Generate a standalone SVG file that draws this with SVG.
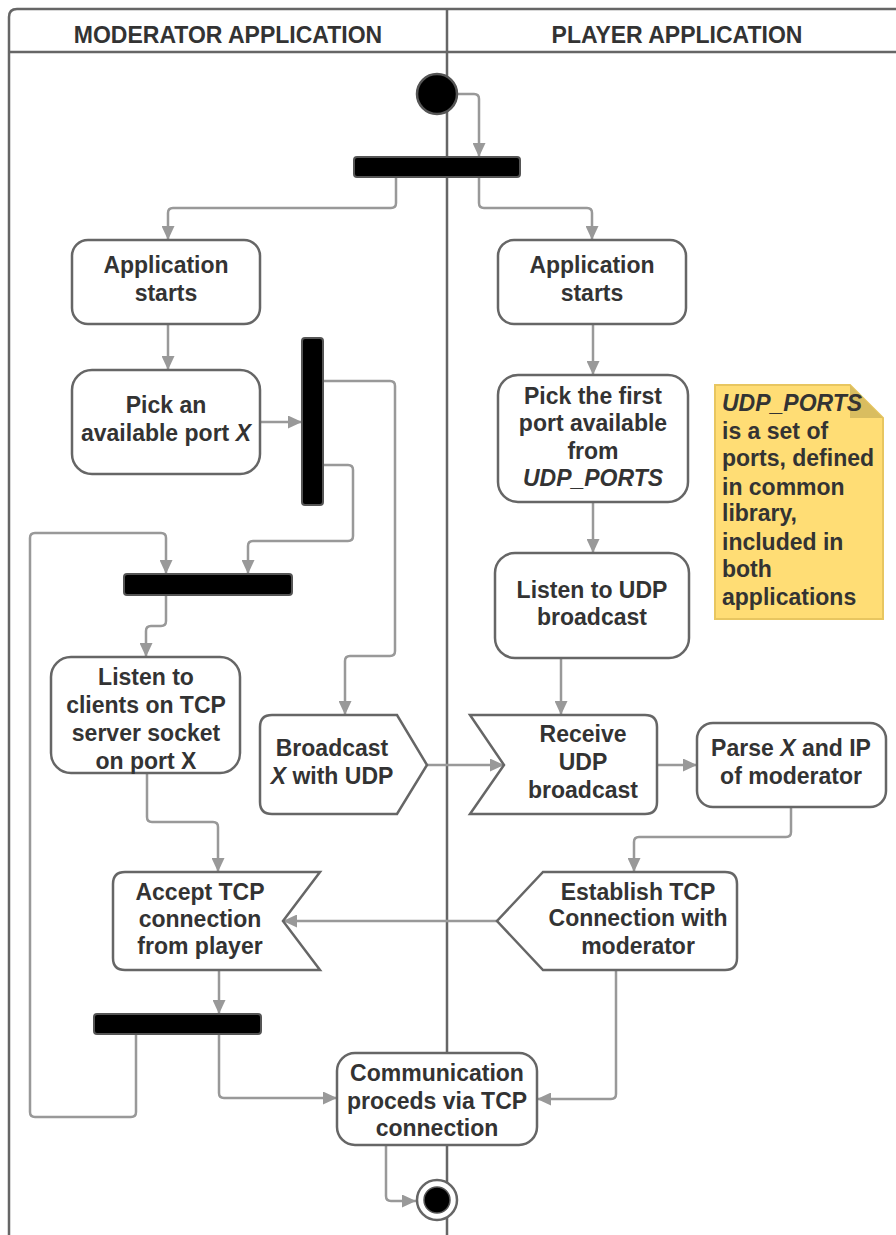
<svg xmlns="http://www.w3.org/2000/svg" width="896" height="1235" viewBox="0 0 896 1235">
  <style>
    .lane { fill: none; stroke: #666; stroke-width: 2.5; }
    .node { fill: #fff; stroke: #666; stroke-width: 2.5; }
    .bar { fill: #000; stroke: #555; stroke-width: 2; }
    .conn { fill: none; stroke: #999; stroke-width: 2.5; marker-end: url(#arrow); }
    text { font-family: "Liberation Sans", Arial, sans-serif; font-weight: bold; font-size: 23px; fill: #333; }
    .c { text-anchor: middle; }
    .hdr { font-size: 23px; fill: #333; }
    .i { font-style: italic; }
  </style>
  <defs>
    <marker id="arrow" viewBox="0 0 14 13" refX="14" refY="6.5" markerWidth="14" markerHeight="13" markerUnits="userSpaceOnUse" orient="auto">
      <path d="M0,0 L14,6.5 L0,13 Z" fill="#999"/>
    </marker>
  </defs>

  <rect width="896" height="1235" fill="#fff"/>

  <!-- swimlanes -->
  <g id="lanes">
    <path class="lane" d="M9,1235 V17 Q9,9 17,9 H896"/>
    <path class="lane" d="M9,52 H896"/>
    <path class="lane" d="M447,9 V1235"/>
    <text class="c hdr" x="228" y="43">MODERATOR APPLICATION</text>
    <text class="c hdr" x="677" y="43">PLAYER APPLICATION</text>
  </g>

  <!-- connectors -->
  <g id="connectors">
    <path class="conn" d="M458,94 H474 Q479,94 479,99 V157"/>
    <path class="conn" d="M396,177 V203 Q396,208 391,208 H173 Q168,208 168,213 V240"/>
    <path class="conn" d="M479,177 V203 Q479,208 484,208 H587 Q592,208 592,213 V240"/>
    <path class="conn" d="M168,324 V370"/>
    <path class="conn" d="M260,422 H302"/>
    <path class="conn" d="M323,381 H390 Q395,381 395,386 V651 Q395,656 390,656 H350 Q345,656 345,661 V715"/>
    <path class="conn" d="M323,465 H348 Q353,465 353,470 V536 Q353,541 348,541 H253 Q248,541 248,546 V574"/>
    <path class="conn" d="M136,1034 V1112 Q136,1117 131,1117 H35 Q30,1117 30,1112 V538 Q30,533 35,533 H161 Q166,533 166,538 V574"/>
    <path class="conn" d="M166,595 V621 Q166,626 161,626 H151 Q146,626 146,631 V657"/>
    <path class="conn" d="M147,773 V817 Q147,822 152,822 H213 Q218,822 218,827 V872"/>
    <path class="conn" d="M219,970 V1014"/>
    <path class="conn" d="M219,1034 V1093 Q219,1098 224,1098 H337"/>
    <path class="conn" d="M593,324 V375"/>
    <path class="conn" d="M593,502 V553"/>
    <path class="conn" d="M561,658 V715"/>
    <path class="conn" d="M427,765 H504"/>
    <path class="conn" d="M657,765 H697"/>
    <path class="conn" d="M791,807 V832 Q791,837 786,837 H639 Q634,837 634,842 V872"/>
    <path class="conn" d="M497,921 H283"/>
    <path class="conn" d="M616,970 V1094 Q616,1099 611,1099 H537"/>
    <path class="conn" d="M386,1145 V1196 Q386,1201 391,1201 H416"/>
  </g>

  <g id="start">
    <circle cx="437" cy="94" r="20" fill="#000" stroke="#555" stroke-width="2.5"/>
  </g>

  <g id="fork-top">
    <rect class="bar" x="354" y="157" width="166" height="20" rx="3"/>
  </g>

  <g id="mod-app-starts">
    <rect class="node" x="72" y="240" width="188" height="84" rx="16"/>
    <text class="c" x="166" y="273">Application</text>
    <text class="c" x="166" y="301">starts</text>
  </g>

  <g id="player-app-starts">
    <rect class="node" x="498" y="240" width="188" height="84" rx="16"/>
    <text class="c" x="592" y="273">Application</text>
    <text class="c" x="592" y="301">starts</text>
  </g>

  <g id="pick-port">
    <rect class="node" x="72" y="370" width="188" height="104" rx="20"/>
    <text class="c" x="166" y="413">Pick an</text>
    <text class="c" x="166" y="441">available port <tspan class="i">X</tspan></text>
  </g>

  <g id="fork-port">
    <rect class="bar" x="302" y="338" width="21" height="167" rx="3"/>
  </g>

  <g id="join-listen">
    <rect class="bar" x="124" y="574" width="168" height="21" rx="3"/>
  </g>

  <g id="listen-clients">
    <rect class="node" x="51" y="657" width="189" height="116" rx="20"/>
    <text class="c" x="146" y="685">Listen to</text>
    <text class="c" x="146" y="713">clients on TCP</text>
    <text class="c" x="146" y="741">server socket</text>
    <text class="c" x="146" y="769">on port X</text>
  </g>

  <g id="broadcast">
    <path class="node" d="M272,715 H397 L427,765 L397,814 H272 Q260,814 260,802 V727 Q260,715 272,715 Z"/>
    <text class="c" x="332" y="756">Broadcast</text>
    <text class="c" x="332" y="784"><tspan class="i">X</tspan> with UDP</text>
  </g>

  <g id="accept-tcp">
    <path class="node" d="M125,872 H320 L283,921 L320,970 H125 Q113,970 113,958 V884 Q113,872 125,872 Z"/>
    <text class="c" x="200" y="900">Accept TCP</text>
    <text class="c" x="200" y="927">connection</text>
    <text class="c" x="200" y="954">from player</text>
  </g>

  <g id="join-accept">
    <rect class="bar" x="94" y="1014" width="167" height="20" rx="3"/>
  </g>

  <g id="pick-first">
    <rect class="node" x="498" y="375" width="190" height="127" rx="20"/>
    <text class="c" x="593" y="404">Pick the first</text>
    <text class="c" x="593" y="431">port available</text>
    <text class="c" x="593" y="459">from</text>
    <text class="c i" x="593" y="486">UDP_PORTS</text>
  </g>

  <g id="note">
    <path d="M715,385 H850 L883,418 V619 H715 Z" fill="#ffdd75" stroke="#e8c660" stroke-width="2"/>
    <path d="M850,385 V418 H883 Z" fill="#d9bd60"/>
    <text x="722" y="411" class="i">UDP_PORTS</text>
    <text x="722" y="439">is a set of</text>
    <text x="722" y="466">ports, defined</text>
    <text x="722" y="495">in common</text>
    <text x="722" y="521">library,</text>
    <text x="722" y="550">included in</text>
    <text x="722" y="577">both</text>
    <text x="722" y="605">applications</text>
  </g>

  <g id="listen-udp">
    <rect class="node" x="495" y="553" width="194" height="105" rx="20"/>
    <text class="c" x="592" y="598">Listen to UDP</text>
    <text class="c" x="592" y="625">broadcast</text>
  </g>

  <g id="receive-udp">
    <path class="node" d="M470,715 H645 Q657,715 657,727 V802 Q657,814 645,814 H470 L504,765 Z"/>
    <text class="c" x="583" y="742">Receive</text>
    <text class="c" x="583" y="770">UDP</text>
    <text class="c" x="583" y="798">broadcast</text>
  </g>

  <g id="parse">
    <rect class="node" x="697" y="723" width="189" height="84" rx="16"/>
    <text class="c" x="791" y="756">Parse <tspan class="i">X</tspan> and IP</text>
    <text class="c" x="791" y="784">of moderator</text>
  </g>

  <g id="establish-tcp">
    <path class="node" d="M543,872 H725 Q737,872 737,884 V958 Q737,970 725,970 H543 L497,921 Z"/>
    <text class="c" x="638" y="900">Establish TCP</text>
    <text class="c" x="638" y="926">Connection with</text>
    <text class="c" x="638" y="954">moderator</text>
  </g>

  <g id="communication">
    <rect class="node" x="337" y="1053" width="200" height="92" rx="18"/>
    <text class="c" x="437" y="1081">Communication</text>
    <text class="c" x="437" y="1109">proceds via TCP</text>
    <text class="c" x="437" y="1136">connection</text>
  </g>

  <g id="end">
    <circle cx="437" cy="1200" r="20" fill="#fff" stroke="#666" stroke-width="2.5"/>
    <circle cx="437" cy="1200" r="13" fill="#000" stroke="#555" stroke-width="1.5"/>
  </g>
</svg>
